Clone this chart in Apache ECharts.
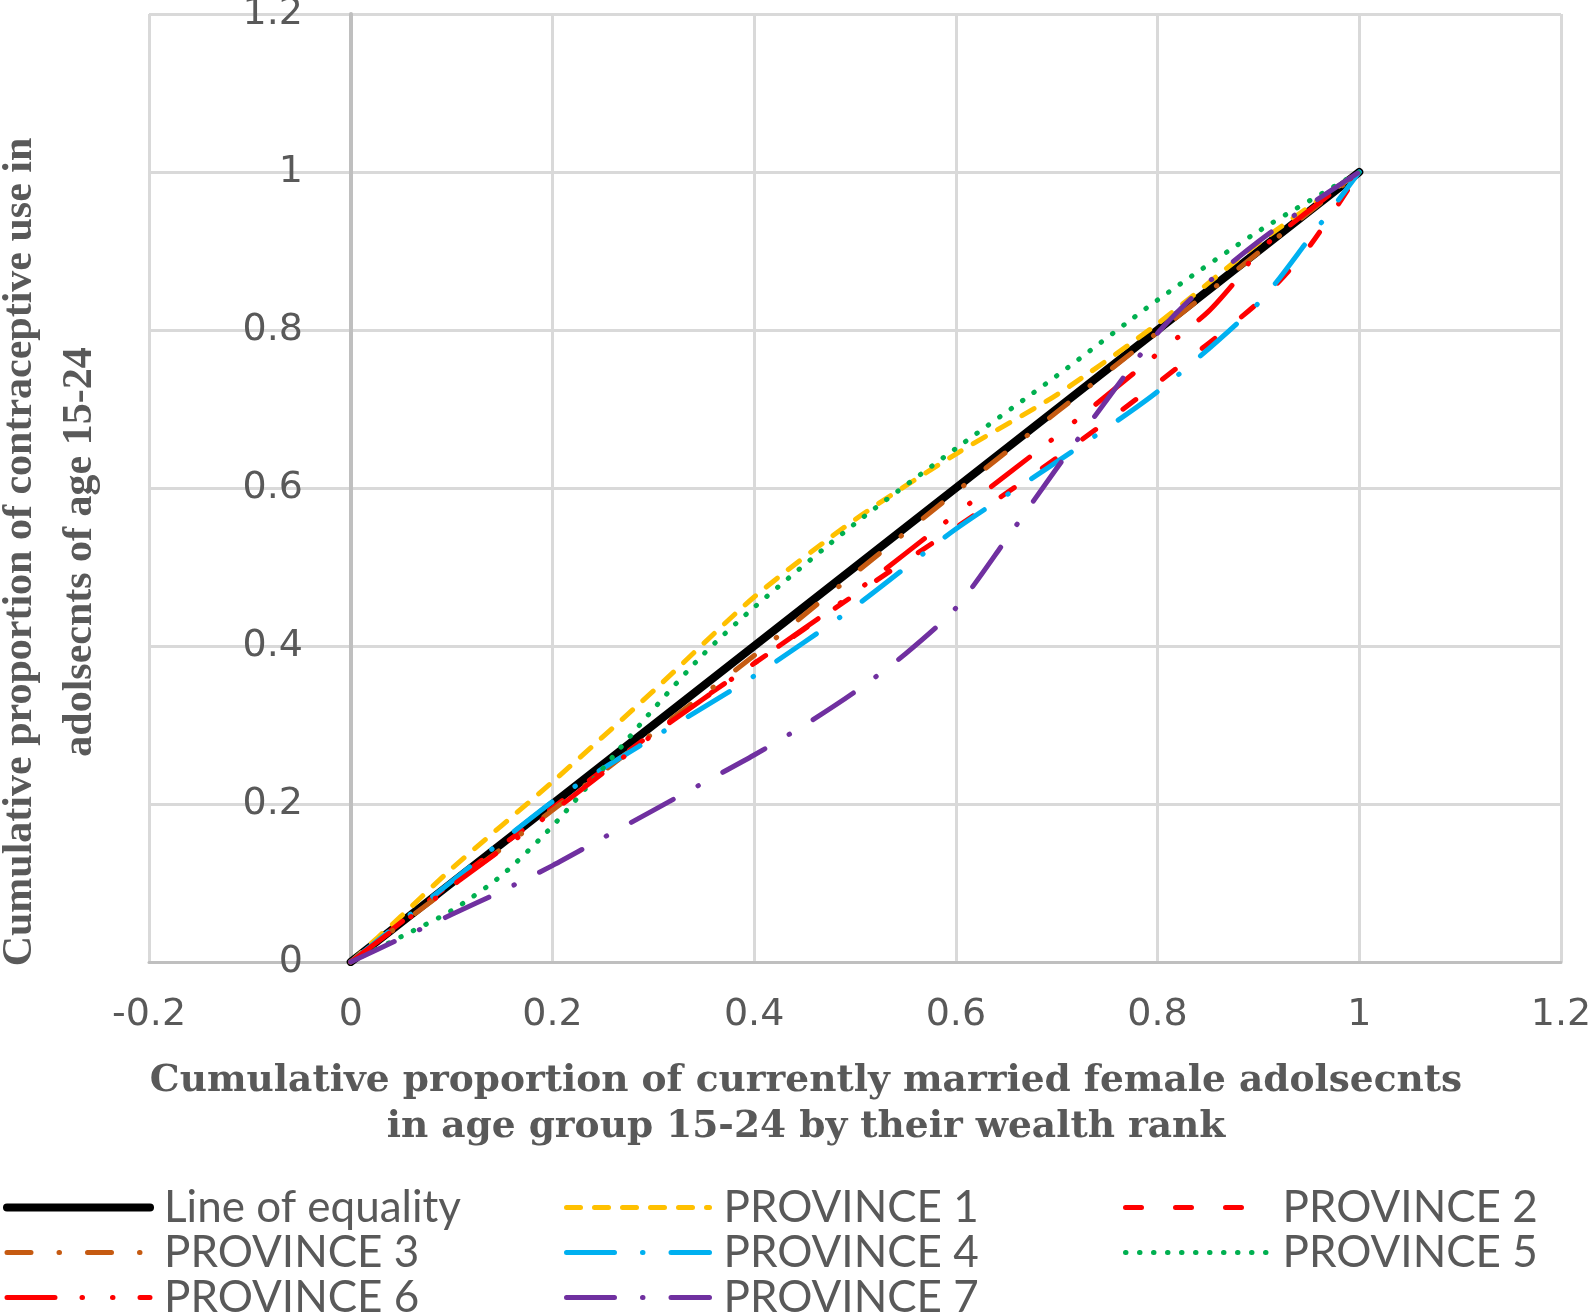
<!DOCTYPE html>
<html><head><meta charset="utf-8">
<script src="https://cdn.jsdelivr.net/npm/echarts@6/dist/echarts.min.js"></script>
<style>html,body{margin:0;padding:0;background:#fff}#c{width:1594px;height:1313px}</style>
</head><body><div id="c"></div>
<script>
// ---- data ----
const xEquality = [0, 1];
const yEquality = [0, 1];

const xP1 = [0, 0.05, 0.1, 0.2, 0.3, 0.4, 0.5, 0.6, 0.7, 0.8, 0.9, 1];
const yP1 = [0, 0.058, 0.118, 0.228, 0.343, 0.462, 0.56, 0.643, 0.718, 0.808, 0.91, 1];

const xP2 = [0, 0.1, 0.2, 0.3, 0.4, 0.5, 0.6, 0.7, 0.8, 0.9, 0.95, 1];
const yP2 = [0, 0.1, 0.195, 0.29, 0.378, 0.465, 0.55, 0.638, 0.733, 0.835, 0.905, 1];

const xP3 = [0, 0.1, 0.2, 0.3, 0.4, 0.5, 0.6, 0.7, 0.8, 0.9, 1];
const yP3 = [0, 0.096, 0.192, 0.29, 0.388, 0.492, 0.595, 0.696, 0.797, 0.898, 1];

const xP4 = [0, 0.1, 0.2, 0.25, 0.3, 0.4, 0.5, 0.6, 0.7, 0.8, 0.9, 0.95, 1];
const yP4 = [0, 0.102, 0.203, 0.245, 0.284, 0.362, 0.45, 0.548, 0.633, 0.722, 0.834, 0.915, 1];

const xP5 = [0, 0.05, 0.1, 0.15, 0.2, 0.25, 0.3, 0.35, 0.4, 0.5, 0.6, 0.7, 0.8, 0.9, 1];
const yP5 = [0, 0.032, 0.065, 0.11, 0.172, 0.245, 0.32, 0.39, 0.449, 0.555, 0.65, 0.742, 0.838, 0.925, 1];

const xP6 = [0, 0.1, 0.2, 0.3, 0.4, 0.5, 0.6, 0.7, 0.8, 0.85, 0.88, 0.9, 1];
const yP6 = [0, 0.096, 0.19, 0.288, 0.378, 0.468, 0.567, 0.666, 0.77, 0.823, 0.866, 0.9, 1];

const xP7 = [0, 0.05, 0.1, 0.15, 0.2, 0.25, 0.3, 0.35, 0.4, 0.45, 0.5, 0.55, 0.6, 0.65, 0.7, 0.75, 0.8, 0.85, 0.9, 0.95, 1];
const yP7 = [0, 0.03, 0.06, 0.09, 0.122, 0.157, 0.192, 0.227, 0.262, 0.3, 0.342, 0.39, 0.448, 0.535, 0.625, 0.712, 0.796, 0.86, 0.912, 0.958, 1];

const seriesNames = ['Line of equality', 'PROVINCE 1', 'PROVINCE 2', 'PROVINCE 3',
  'PROVINCE 4', 'PROVINCE 5', 'PROVINCE 6', 'PROVINCE 7'];
const xTitle = 'Cumulative proportion of currently married female adolsecnts\nin age group 15-24 by their wealth rank';
const yTitle = 'Cumulative proportion of contraceptive use in\nadolsecnts of age 15-24';

// ---- build ----
const zip = (xs, ys) => xs.map((x, i) => [x, ys[i]]);
const xsAll = [xEquality, xP1, xP2, xP3, xP4, xP5, xP6, xP7];
const ysAll = [yEquality, yP1, yP2, yP3, yP4, yP5, yP6, yP7];
const styles = [
  { color: '#000000', width: 8, type: 'solid' },
  { color: '#FFC000', width: 5, type: [14, 14] },
  { color: '#FF0000', width: 5, type: [16, 34] },
  { color: '#C55A11', width: 5, type: [24, 28, 0.5, 28] },
  { color: '#00B0F0', width: 5, type: [48, 28, 0.5, 28] },
  { color: '#00B050', width: 5, type: [0.5, 13.5] },
  { color: '#FF0000', width: 5, type: [48, 27, 0.5, 30, 0.5, 27] },
  { color: '#7030A0', width: 5, type: [48, 28, 0.5, 28] }
];

const series = seriesNames.map((name, i) => ({
  name: name,
  type: 'line',
  data: zip(xsAll[i], ysAll[i]),
  showSymbol: false,
  symbol: 'none',
  smooth: i === 0 ? false : 0.25,
  color: styles[i].color,
  lineStyle: { color: styles[i].color, width: styles[i].width, type: styles[i].type, cap: 'round', join: 'round' },
  emphasis: { disabled: true },
  animation: false,
  z: 2 + i
}));

const legendText = { color: '#595959', fontFamily: 'Lato', fontSize: 44, lineHeight: 45, padding: [0, 0, 0, 9] };
function legendCol(names, left) {
  return {
    orient: 'vertical', left: left, top: 1185, height: 160, padding: 0,
    itemWidth: 143, itemHeight: 14, itemGap: 0,
    selectedMode: false,
    textStyle: legendText,
    itemStyle: { opacity: 0 },
    data: names.map(n => {
      const i = seriesNames.indexOf(n);
      return { name: n, itemStyle: { opacity: 0 },
        lineStyle: { width: styles[i].width, color: styles[i].color, type: styles[i].type, cap: 'round', opacity: 1 } };
    })
  };
}

const chart = echarts.init(document.getElementById('c'));
chart.setOption({
  backgroundColor: '#ffffff',
  animation: false,
  grid: { left: 149, right: 33, top: 14, bottom: 351, containLabel: false, outerBoundsMode: 'none' },
  xAxis: {
    type: 'value', min: -0.2, max: 1.2, interval: 0.2,
    axisLine: { show: true, onZero: true, lineStyle: { color: '#BFBFBF', width: 3 } },
    axisTick: { show: false },
    splitLine: { show: true, lineStyle: { color: '#D9D9D9', width: 3 } },
    axisLabel: { color: '#595959', fontFamily: 'DejaVu Sans', fontSize: 38, margin: 34, interval: 0 },
    name: xTitle, nameLocation: 'middle', nameGap: 96,
    nameTextStyle: { color: '#595959', fontFamily: 'DejaVu Serif', fontWeight: 'bold', fontSize: 37.5, lineHeight: 46, padding: [0, 98, 0, 0] }
  },
  yAxis: {
    type: 'value', min: 0, max: 1.2, interval: 0.2,
    axisLine: { show: true, onZero: true, lineStyle: { color: '#BFBFBF', width: 4 } },
    axisTick: { show: false },
    splitLine: { show: true, lineStyle: { color: '#D9D9D9', width: 3 } },
    axisLabel: { color: '#595959', fontFamily: 'DejaVu Sans', fontSize: 38, margin: -154 },
    name: yTitle, nameLocation: 'middle', nameRotate: 90, nameGap: 39,
    nameTextStyle: { color: '#595959', fontFamily: 'Liberation Serif', fontWeight: 'bold', fontSize: 42, lineHeight: 60, padding: [0, 128, 0, 0] }
  },
  legend: [
    legendCol(['Line of equality', 'PROVINCE 3', 'PROVINCE 6'], 3),
    legendCol(['PROVINCE 1', 'PROVINCE 4', 'PROVINCE 7'], 564),
    legendCol(['PROVINCE 2', 'PROVINCE 5'], 1123)
  ],
  series: series
});
</script></body></html>
